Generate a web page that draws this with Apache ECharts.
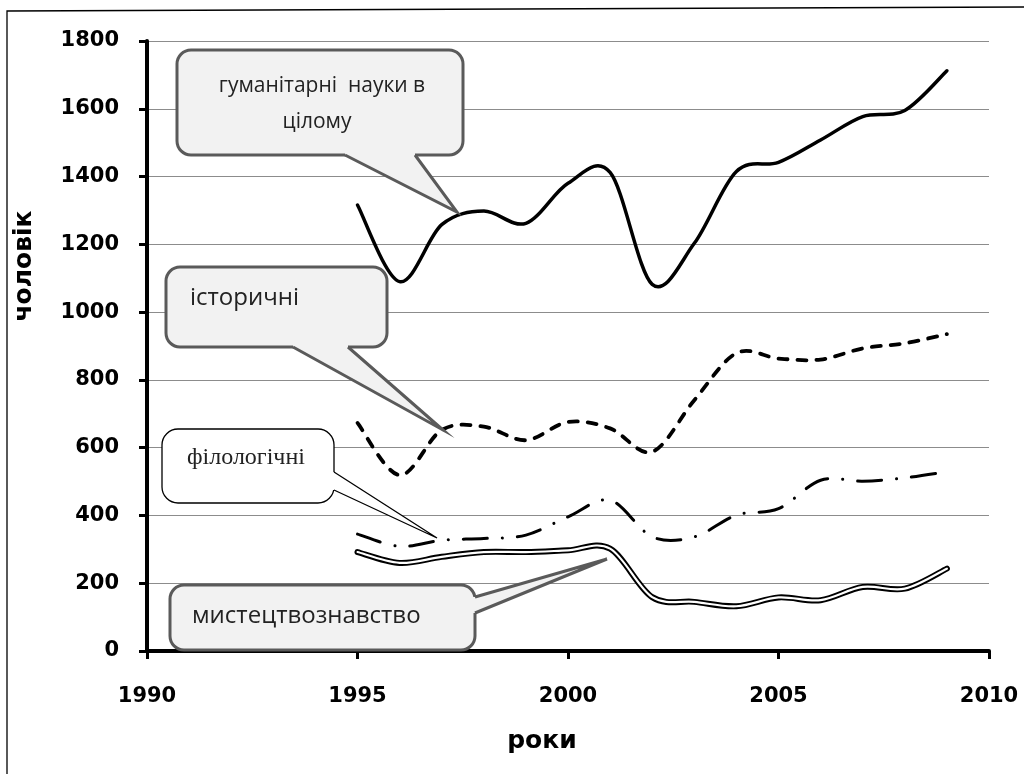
<!DOCTYPE html>
<html>
<head>
<meta charset="utf-8">
<script src="https://cdn.jsdelivr.net/npm/echarts@6/dist/echarts.min.js"></script>
<style>
html,body{margin:0;padding:0;background:#fff;}
#c{width:1024px;height:774px;}
</style>
</head>
<body>
<div id="c"></div>
<script>
// ---- data ----
const years = [1995,1996,1997,1998,1999,2000,2001,2002,2003,2004,2005,2006,2007,2008,2009];
const humanities   = [1316,1090,1258,1298,1262,1380,1412,1082,1203,1415,1442,1508,1577,1595,1712];
const historical   = [673,519,652,662,622,676,657,588,740,879,863,860,893,908,935];
const philological = [345,309,327,332,342,396,445,337,337,401,420,504,501,511,529];
const artStudies   = [292,260,278,292,292,297,302,159,145,132,158,150,189,184,243];
const xTicks = [1990,1995,2000,2005,2010];
const yTicks = [0,200,400,600,800,1000,1200,1400,1600,1800];
const labelHumanities = ['гуманітарні  науки в', 'цілому'];
const labelHistorical = 'історичні';
const labelPhilological = 'філологічні';
const labelArt = 'мистецтвознавство';
const xName = 'роки';
const yName = 'чоловік';

const pairs = arr => years.map((y, i) => [y, arr[i]]);

const chart = echarts.init(document.getElementById('c'), null, {renderer: 'canvas'});

// smooth curve through the data points (positions from the chart's own scales)
function smoothPath(api, arr) {
  const pts = years.map((y, i) => api.coord([y, arr[i]]));
  let d = 'M' + pts[0][0] + ' ' + pts[0][1];
  for (let i = 0; i < pts.length - 1; i++) {
    const p0 = pts[Math.max(i - 1, 0)], p1 = pts[i], p2 = pts[i + 1], p3 = pts[Math.min(i + 2, pts.length - 1)];
    const c1x = p1[0] + (p2[0] - p0[0]) / 6, c1y = p1[1] + (p2[1] - p0[1]) / 6;
    const c2x = p2[0] - (p3[0] - p1[0]) / 6, c2y = p2[1] - (p3[1] - p1[1]) / 6;
    d += ' C' + c1x + ' ' + c1y + ' ' + c2x + ' ' + c2y + ' ' + p2[0] + ' ' + p2[1];
  }
  return d;
}

function curveSeries(name, arr, z, lineStyle) {
  return {
    name: name, type: 'custom', coordinateSystem: 'cartesian2d', silent: true, z: z,
    data: pairs(arr), encode: {x: 0, y: 1},
    renderItem: function (params, api) {
      if (params.dataIndex !== 0) return null;
      return {type: 'path', shape: {pathData: smoothPath(api, arr)},
        style: Object.assign({fill: 'none'}, lineStyle)};
    }
  };
}

function callout(box, base1, base2, tip, inset, st, textEls) {
  const els = [];
  els.push({type:'rect', z:100, shape:{x:box[0], y:box[1], width:box[2]-box[0], height:box[3]-box[1], r:st.r},
    style:{fill:st.fill, stroke:st.stroke, lineWidth:st.lw}});
  const i1 = [base1[0]+inset[0], base1[1]+inset[1]];
  const i2 = [base2[0]+inset[0], base2[1]+inset[1]];
  els.push({type:'polygon', z:101, shape:{points:[i1, base1, tip, base2, i2]}, style:{fill:st.fill, stroke:null}});
  els.push({type:'polyline', z:102, shape:{points:[base1, tip, base2]}, style:{stroke:st.stroke, lineWidth:st.lw, fill:null, lineJoin:'miter'}});
  textEls.forEach(t => els.push(Object.assign({type:'text', z:103}, t)));
  return els;
}

const greyBox = {fill:'#f2f2f2', stroke:'#5a5a5a', lw:3, r:14};
const whiteBox = {fill:'#ffffff', stroke:'#000000', lw:1.3, r:16};
const sansFont = '"Open Sans", sans-serif';

function txt(text, x, y, size, family, align) {
  return {style:{text:text, x:x, y:y, fill:'#222', fontSize:size, fontFamily:family,
    align:align, textAlign:align, verticalAlign:'middle', textVerticalAlign:'middle'}};
}

const graphics = [].concat(
  [{type:'polyline', z:1, shape:{points:[[7,800],[7,11],[1030,7]]}, style:{fill:null, stroke:'#000', lineWidth:1.3}}],
  callout([177,50,463,155], [345,155], [415,155], [457,212], [0,-4], greyBox, [
    txt(labelHumanities[0], 322, 86, 21, sansFont, 'center'),
    txt(labelHumanities[1], 317, 122, 21, sansFont, 'center')
  ]),
  callout([166,267,387,347], [293,347], [348,347], [443,430], [0,-4], greyBox, [
    txt(labelHistorical, 190, 298, 24, sansFont, 'left')
  ]),
  callout([162,429,334,503], [334,472], [334,490], [437,538], [-4,0], whiteBox, [
    txt(labelPhilological, 187, 458, 24, '"Liberation Serif", serif', 'left')
  ]),
  callout([170,585,475,650], [475,597], [475,613], [607,559], [-4,0], greyBox, [
    txt(labelArt, 192, 616, 24, sansFont, 'left')
  ])
);

const axisFont = {fontFamily:'"DejaVu Sans", sans-serif', fontWeight:'bold', fontSize:21, color:'#000'};
const nameFont = {fontFamily:'"DejaVu Sans", sans-serif', fontWeight:'bold', fontSize:25, color:'#000'};

const option = {
  animation:false,
  backgroundColor:'#ffffff',
  grid:{left:147, right:35, top:41, bottom:123, containLabel:false},
  xAxis:{
    type:'value', min:xTicks[0], max:xTicks[xTicks.length-1], interval:5,
    name:xName, nameLocation:'middle', nameGap:78,
    nameTextStyle:Object.assign({padding:[0,52,0,0]}, nameFont),
    axisLine:{show:true, onZero:false, lineStyle:{color:'#000', width:4}},
    axisTick:{show:true, inside:false, length:8, lineStyle:{color:'#000', width:3}},
    axisLabel:Object.assign({margin:35, formatter: v => String(v)}, axisFont),
    splitLine:{show:false}
  },
  yAxis:{
    type:'value', min:yTicks[0], max:yTicks[yTicks.length-1], interval:200,
    name:yName, nameLocation:'middle', nameGap:110, nameRotate:90,
    nameTextStyle:Object.assign({padding:[0,0,0,160]}, nameFont),
    axisLine:{show:true, lineStyle:{color:'#000', width:4}},
    axisTick:{show:true, inside:false, length:8, lineStyle:{color:'#000', width:3}},
    axisLabel:Object.assign({margin:28, formatter: v => String(v)}, axisFont),
    splitLine:{show:true, lineStyle:{color:'#8c8c8c', width:1}}
  },
  series:[
    curveSeries('гуманітарні науки в цілому', humanities, 5, {stroke:'#000', lineWidth:3.5, lineCap:'round', lineJoin:'round'}),
    curveSeries('історичні', historical, 5, {stroke:'#000', lineWidth:3.8, lineDash:[9,10], lineCap:'round'}),
    curveSeries('філологічні', philological, 5, {stroke:'#000', lineWidth:3, lineDash:[24,15,0.1,15], lineCap:'round'}),
    curveSeries('мистецтвознавство', artStudies, 5, {stroke:'#000', lineWidth:6, lineCap:'round', lineJoin:'round'}),
    curveSeries('мистецтвознавство (core)', artStudies, 6, {stroke:'#fff', lineWidth:2.2, lineCap:'round', lineJoin:'round'})
  ],
  graphic:graphics
};
chart.setOption(option);
</script>
</body>
</html>
